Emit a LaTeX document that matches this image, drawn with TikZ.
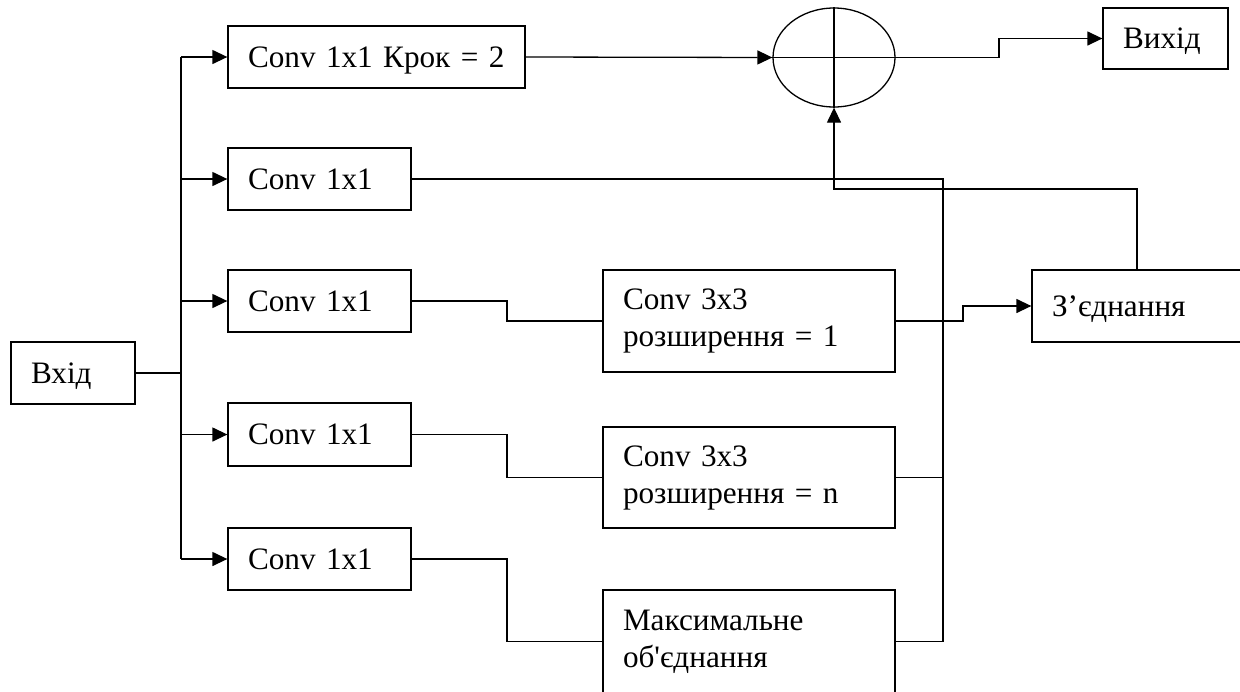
\documentclass[tikz,border=0pt]{standalone}
\usepackage{fontspec}
\setmainfont{Liberation Serif}
\usetikzlibrary{arrows.meta,shapes.geometric}
\begin{document}
\begin{tikzpicture}[x=0.5pt,y=-0.5pt,
  every node/.style={font=\fontsize{15.6}{18.5}\selectfont},
  bx/.style={draw, line width=0.65pt, inner xsep=10pt, inner ysep=0pt, align=left},
  one/.style={text depth=0pt},
  ln/.style={line width=0.65pt},
  arr/.style={ln, -{Triangle[length=7.5pt,width=7pt]}}]
\useasboundingbox (0,0) rectangle (1240,691);
% nodes
\node[bx,one,text width=42pt,minimum height=31pt] (in) at (73,373) {Вхід};
\node[bx,one,text width=128.5pt,minimum height=31pt] (c0) at (376.5,57) {\mbox{Conv 1x1 Крок = 2}};
\node[bx,one,text width=71.5pt,minimum height=31pt] (c1) at (319.5,179) {Conv 1x1};
\node[bx,one,text width=71.5pt,minimum height=31pt] (c2) at (319.5,301) {Conv 1x1};
\node[bx,one,text width=71.5pt,minimum height=31.5pt] (c3) at (319.5,434.5) {Conv 1x1};
\node[bx,one,text width=71.5pt,minimum height=31pt] (c4) at (319.5,559) {Conv 1x1};
\node[bx,text width=126pt,minimum height=51pt] (d1) at (749,321) {Conv 3x3\\розширення = 1};
\node[bx,text width=126pt,minimum height=50.5pt] (d2) at (749,477.5) {Conv 3x3\\розширення = n};
\node[bx,text width=126pt,minimum height=51.5pt] (mp) at (749,641.5) {Максимальне\\об\textquotesingle єднання};
\node[bx,one,text width=85pt,minimum height=36pt] (cat) at (1137,306) {З’єднання};
\node[bx,one,text width=42.5pt,minimum height=30.5pt] (out) at (1165.5,38.5) {Вихід};
\node[draw,ln,ellipse,minimum width=61pt,minimum height=49.5pt,inner sep=0pt] (sum) at (834,57.5) {};
\draw[ln] (sum.west) -- (sum.east);
\draw[ln] (sum.north) -- (sum.south);
% input trunk
\coordinate (j) at (181,373);
\coordinate (tT) at (181,57);
\coordinate (tB) at (181,559);
\draw[ln] (in.east) -- (j);
\draw[ln] (tT) -- (tB);
\foreach \n in {c0,c1,c2,c3,c4} \draw[arr] (\n.west -| j) -- (\n.west);
% stride branch to sum
\draw[arr] (c0.east) -- (sum.west);
% middle connections
\coordinate (k) at (507,0);
\draw[ln] (c2.east) -- (c2.east -| k) |- (d1.west);
\draw[ln] (c3.east) -- (c3.east -| k) |- (d2.west);
\draw[ln] (c4.east) -- (c4.east -| k) |- (mp.west);
% collector
\coordinate (colT) at (943,179);
\coordinate (colB) at (943,641.5);
\draw[ln] (c1.east) -- (colT) -- (colB);
\draw[ln] (d2.east) -- (d2.east -| colT);
\draw[ln] (mp.east) -- (colB);
% to concatenation
\coordinate (m) at (963,0);
\draw[arr] (d1.east) -- (d1.east -| m) |- (cat.west);
% concatenation to sum
\coordinate (r) at (0,189);
\draw[arr] (cat.north) -- (cat.north |- r) -| (sum.south);
% sum to output
\coordinate (s) at (999,0);
\draw[arr] (sum.east) -- (sum.east -| s) |- (out.west);
\end{tikzpicture}
\end{document}
